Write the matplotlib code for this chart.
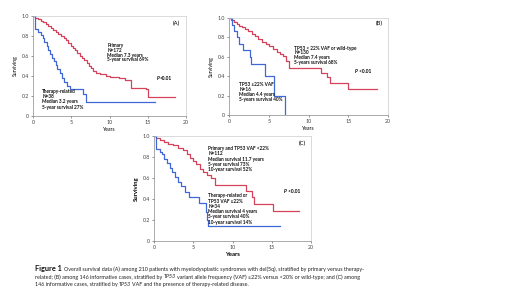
import matplotlib
matplotlib.use("Agg")
import matplotlib.pyplot as plt

plt.rcParams['font.family'] = ['Lato', 'DejaVu Sans']

RED = '#d4425c'
BLUE = '#3f68d6'

# ---- Data (step survival curves) ----
a_primary_t = [0, 0.3, 0.6, 1.0, 1.3, 1.7, 2.0, 2.3, 2.6, 3.0, 3.3, 3.6, 4.0, 4.3, 4.6, 5.0, 5.2, 5.5,
               5.8, 6.1, 6.4, 6.7, 7.0, 7.3, 7.6, 7.9, 8.2, 8.7, 9.5, 10.0, 11.3, 12.0, 12.8, 14.8, 15.0, 18.6]
a_primary_s = [1.0, 0.98, 0.97, 0.95, 0.94, 0.92, 0.90, 0.88, 0.86, 0.84, 0.82, 0.80, 0.78, 0.76, 0.73, 0.70,
               0.68, 0.66, 0.63, 0.60, 0.58, 0.56, 0.53, 0.50, 0.48, 0.45, 0.43, 0.42, 0.40, 0.39, 0.38, 0.36,
               0.28, 0.27, 0.19, 0.19]
a_therapy_t = [0, 0.3, 0.7, 1.0, 1.3, 1.5, 1.8, 2.0, 2.2, 2.5, 2.7, 3.0, 3.2, 3.5, 3.8, 4.0, 4.5, 4.8,
               6.6, 6.9, 16.0]
a_therapy_s = [1.0, 0.87, 0.84, 0.81, 0.78, 0.74, 0.70, 0.66, 0.62, 0.58, 0.55, 0.51, 0.47, 0.43, 0.38,
               0.34, 0.30, 0.27, 0.22, 0.14, 0.14]

b_wild_t = [0, 0.3, 0.6, 1.0, 1.3, 1.6, 2.0, 2.4, 2.9, 3.3, 3.7, 4.2, 4.6, 5.0, 5.5, 6.0, 6.4, 6.8, 7.2,
            7.6, 11.6, 12.3, 12.7, 15.0, 18.6]
b_wild_s = [1.0, 0.98, 0.96, 0.94, 0.92, 0.91, 0.89, 0.87, 0.84, 0.81, 0.78, 0.75, 0.73, 0.71, 0.68, 0.65,
            0.63, 0.61, 0.56, 0.48, 0.43, 0.39, 0.33, 0.27, 0.27]
b_mut_t = [0, 0.4, 0.6, 1.0, 1.3, 1.7, 2.6, 2.8, 4.5, 5.6, 7.0]
b_mut_s = [1.0, 0.93, 0.87, 0.80, 0.73, 0.67, 0.60, 0.53, 0.40, 0.20, 0.0]

c_primary_t = [0, 0.3, 0.8, 1.3, 1.8, 2.4, 3.0, 3.7, 4.2, 4.6, 5.0, 5.4, 5.9, 6.3, 6.8, 7.2, 7.8,
               11.7, 12.5, 12.8, 15.1, 18.5]
c_primary_s = [1.0, 0.98, 0.96, 0.94, 0.92, 0.91, 0.89, 0.87, 0.83, 0.79, 0.76, 0.73, 0.69, 0.66, 0.63,
               0.60, 0.53, 0.48, 0.42, 0.35, 0.29, 0.29]
c_therapy_t = [0, 0.3, 0.8, 1.0, 1.3, 1.6, 2.0, 2.3, 2.7, 3.1, 3.5, 3.9, 4.4, 5.7, 6.6, 6.8, 6.9, 16.0]
c_therapy_s = [1.0, 0.88, 0.85, 0.83, 0.78, 0.74, 0.70, 0.66, 0.61, 0.56, 0.52, 0.47, 0.42, 0.36, 0.28,
               0.20, 0.14, 0.14]

xticks = [0, 5, 10, 15, 20]
yticks = [0, 0.2, 0.4, 0.6, 0.8, 1.0]
ytick_labels = ['0', '0.2', '0.4', '0.6', '0.8', '1.0']

W, H = 520, 292
fig = plt.figure(figsize=(W / 100, H / 100), dpi=100)


def make_ax(left, top, right, bottom):
    return fig.add_axes([left / W, 1 - bottom / H, (right - left) / W, (bottom - top) / H])


def style(ax, bold_labels=False):
    ax.set_xlim(0, 20)
    ax.set_ylim(0, 1.0)
    ax.set_xticks(xticks)
    ax.set_yticks(yticks)
    ax.set_yticklabels(ytick_labels)
    ax.tick_params(labelsize=3.8, length=1.2, width=0.4, pad=1.5, colors='#444444')
    for s in ax.spines.values():
        s.set_color('#cccccc')
        s.set_linewidth(0.5)
    ax.spines['left'].set_color('#888888')
    ax.spines['bottom'].set_color('#888888')
    w = 'bold' if bold_labels else 'normal'
    fs = 4.3 if bold_labels else 3.7
    ax.set_ylabel('Surviving', fontsize=fs, fontweight=w, labelpad=3)
    ax.set_xlabel('Years', fontsize=fs, fontweight=w, labelpad=1.5)


def lines(ax, x, y, texts, dy=0.05, fs=3.4):
    for i, t in enumerate(texts):
        ax.text(x, y - i * dy, t, fontsize=fs, fontweight='bold', va='center', ha='left', color='#111111')


def pval(ax, x, y, rest):
    t = ax.text(x, y, 'P', fontsize=3.4, fontweight='bold', style='italic', va='center')
    fig.canvas.draw()
    bb = t.get_window_extent(renderer=fig.canvas.get_renderer())
    xd = ax.transData.inverted().transform((bb.x1 + 0.3, 0))[0]
    ax.text(xd, y, rest, fontsize=3.4, fontweight='bold', va='center')


lw = 0.9
# Panel A
axA = make_ax(33, 16, 186, 116)
axA.step(a_primary_t, a_primary_s, where='post', color=RED, lw=lw)
axA.step(a_therapy_t, a_therapy_s, where='post', color=BLUE, lw=lw)
style(axA)
lines(axA, 9.7, 0.71, ['Primary', 'N=172', 'Median 7.3 years', '5-year survival 69%'])
lines(axA, 1.2, 0.24, ['Therapy-related', 'N=38', 'Median 3.2 years', '5-year survival 27%'])
pval(axA, 16.2, 0.37, '<0.01')
axA.text(19.2, 0.93, '(A)', fontsize=4.2, ha='right', va='center')

# Panel B
axB = make_ax(229, 18, 388, 115)
axB.step(b_wild_t, b_wild_s, where='post', color=RED, lw=lw)
axB.step(b_mut_t, b_mut_s, where='post', color=BLUE, lw=lw)
style(axB)
lines(axB, 8.2, 0.69, ['TP53 < 22% VAF or wild-type', 'N=130', 'Median 7.4 years', '5-years survival 68%'])
lines(axB, 1.3, 0.31, ['TP53 \u226522% VAF', 'N=16', 'Median 4.4 years', '5-years survival 40%'])
pval(axB, 15.8, 0.45, ' <0.01')
axB.text(19.3, 0.94, '(B)', fontsize=4.2, ha='right', va='center')

# Panel C
axC = make_ax(154, 136, 311, 241)
axC.step(c_primary_t, c_primary_s, where='post', color=RED, lw=lw)
axC.step(c_therapy_t, c_therapy_s, where='post', color=BLUE, lw=lw)
style(axC, bold_labels=True)
lines(axC, 6.9, 0.88, ['Primary and TP53 VAF <22%', 'N=112', 'Median survival 11.7 years',
                       '5-year survival 73%', '10-year survival 52%'])
lines(axC, 6.9, 0.43, ['Therapy-related or', 'TP53 VAF \u226522%', 'N=34', 'Median survival 4 years',
                       '5-year survival 40%', '10-year survival 14%'])
pval(axC, 16.6, 0.47, ' <0.01')
axC.text(19.3, 0.93, '(C)', fontsize=4.2, ha='right', va='center')

# Caption (segments: text, style, gap in px before segment)
cap_lines = [
    (269, [('Figure 1', 'bold', 0),
           ('Overall survival data (A) among 210 patients with myelodysplastic syndromes with del(5q), stratified by primary versus therapy-', 'normal', 1.8)]),
    (277, [('related; (B) among 146 informative cases, stratified by', 'normal', 0), ('TP53', 'italic', 1.3),
           ('variant allele frequency (VAF) \u226522% versus <20% or wild-type; and (C) among', 'normal', 1.3)]),
    (284.5, [('146 informative cases, stratified by', 'normal', 0), ('TP53', 'italic', 1.3),
             ('VAF and the presence of therapy-related disease.', 'normal', 1.3)]),
]
fig.canvas.draw()
r = fig.canvas.get_renderer()
for ypix, segs in cap_lines:
    xpix = 35.0
    for txt, st, gap in segs:
        kw = dict(fontsize=3.9, va='baseline', color='#222222')
        if st == 'bold':
            kw.update(fontsize=5.3, fontweight='bold', color='#111111')
        elif st == 'italic':
            kw.update(style='italic')
        t = fig.text((xpix + gap) / W, 1 - (ypix + 1.5) / H, txt, **kw)
        bb = t.get_window_extent(renderer=r)
        xpix = bb.x1

fig.savefig('out.png', dpi=100, facecolor='white')
